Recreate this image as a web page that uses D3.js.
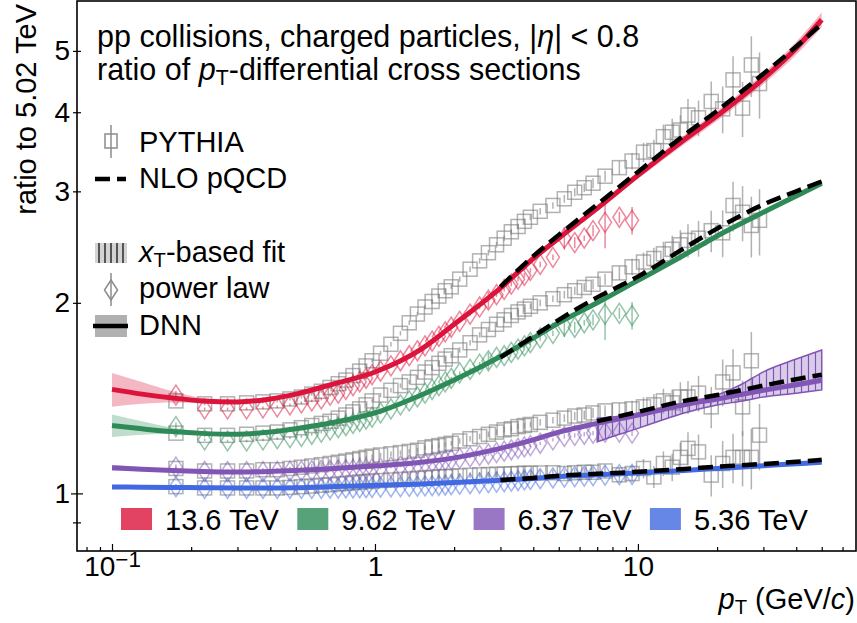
<!DOCTYPE html>
<html>
<head>
<meta charset="utf-8">
<style>
  body { margin: 0; background: #fff; }
  svg text { font-family: "Liberation Sans", Arial, sans-serif; fill: #000; }
</style>
</head>
<body>
<svg id="chart" width="857" height="623"></svg>
<script src="https://cdn.jsdelivr.net/npm/d3@7"></script>
<script>

// ---- data ----
var energies = ["13.6 TeV", "9.62 TeV", "6.37 TeV", "5.36 TeV"];
var colors   = ["#dc143c", "#2e8b57", "#8155b5", "#4169e1"];

// PYTHIA (gray squares)
var ptPy = [0.175, 0.225, 0.275, 0.325, 0.375, 0.425, 0.475, 0.525, 0.575, 0.625, 0.675, 0.725, 0.775, 0.825, 0.875, 0.925, 0.975,
            1.05, 1.15, 1.25, 1.35, 1.45, 1.55, 1.65, 1.75, 1.85, 1.95,
            2.1, 2.3, 2.5, 2.7, 2.9, 3.1, 3.3, 3.5, 3.7, 3.9,
            4.25, 4.75, 5.25, 5.75, 6.25, 6.75, 7.5, 8.5, 9.5,
            10.5, 11.5, 12.5, 13.5, 14.5, 15.5, 17, 19, 21, 23, 25, 27, 29];
var py136 = [1.40, 1.385, 1.385, 1.39, 1.395, 1.40, 1.41, 1.42, 1.435, 1.45, 1.47, 1.49, 1.51, 1.535, 1.56, 1.59, 1.62,
             1.665, 1.72, 1.79, 1.86, 1.92, 1.97, 2.01, 2.05, 2.09, 2.12,
             2.18, 2.26, 2.33, 2.40, 2.47, 2.53, 2.59, 2.64, 2.69, 2.73,
             2.79, 2.85, 2.92, 2.99, 3.04, 3.09, 3.17, 3.27, 3.35,
             3.46, 3.48, 3.66, 3.72, 3.75, 3.96, 3.92, 4.16, 4.05, 4.50, 4.06, 4.75, 4.44];
var py962 = [1.245, 1.235, 1.235, 1.24, 1.245, 1.25, 1.26, 1.27, 1.28, 1.29, 1.30, 1.315, 1.33, 1.345, 1.36, 1.38, 1.40,
             1.43, 1.455, 1.48, 1.50, 1.525, 1.555, 1.58, 1.605, 1.63, 1.65,
             1.685, 1.73, 1.78, 1.815, 1.85, 1.88, 1.91, 1.935, 1.955, 1.975,
             2.00, 2.03, 2.06, 2.09, 2.115, 2.14, 2.18, 2.23, 2.28,
             2.32, 2.35, 2.39, 2.43, 2.47, 2.51, 2.53, 2.60, 2.58, 2.85, 2.78, 2.65, 2.70];
var py637 = [1.095, 1.085, 1.085, 1.085, 1.09, 1.09, 1.095, 1.10, 1.105, 1.11, 1.115, 1.12, 1.125, 1.13, 1.135, 1.14, 1.145,
             1.15, 1.155, 1.16, 1.165, 1.17, 1.18, 1.185, 1.19, 1.195, 1.20,
             1.21, 1.22, 1.23, 1.24, 1.25, 1.26, 1.265, 1.275, 1.28, 1.285,
             1.295, 1.305, 1.315, 1.325, 1.33, 1.34, 1.35, 1.355, 1.36,
             1.37, 1.38, 1.40, 1.39, 1.42, 1.42, 1.44, 1.37, 1.50, 1.55, 1.37, 1.62, null];
var py536 = [1.025, 1.02, 1.02, 1.02, 1.02, 1.02, 1.022, 1.025, 1.027, 1.03, 1.032, 1.035, 1.037, 1.04, 1.042, 1.044, 1.046,
             1.048, 1.05, 1.052, 1.054, 1.056, 1.058, 1.06, 1.062, 1.063, 1.064,
             1.066, 1.068, 1.07, 1.071, 1.072, 1.073, 1.074, 1.075, 1.076, 1.076,
             1.077, 1.078, 1.075, 1.078, 1.08, 1.08, 1.085, 1.07, 1.075,
             1.095, 1.062, 1.115, 1.10, 1.14, 1.178, 1.163, 1.069, 1.115, 1.14, 1.14, 1.14, 1.236];
var pyErr = [0.006, 0.006, 0.006, 0.006, 0.006, 0.006, 0.006, 0.006, 0.006, 0.006, 0.006, 0.006, 0.006, 0.006, 0.006, 0.006, 0.006,
             0.008, 0.008, 0.008, 0.008, 0.008, 0.008, 0.008, 0.008, 0.008, 0.008,
             0.01, 0.01, 0.01, 0.01, 0.01, 0.01, 0.01, 0.01, 0.01, 0.01,
             0.012, 0.012, 0.014, 0.015, 0.016, 0.018, 0.02, 0.025, 0.03,
             0.035, 0.04, 0.045, 0.05, 0.055, 0.06, 0.065, 0.075, 0.085, 0.09, 0.10, 0.11, 0.12];

// power law (coloured diamonds)
var ptPow = [0.175, 0.225, 0.275, 0.325, 0.375, 0.425, 0.475, 0.525, 0.575, 0.625, 0.675, 0.725, 0.775, 0.825, 0.875, 0.925, 0.975,
             1.05, 1.15, 1.25, 1.35, 1.45, 1.55, 1.65, 1.75, 1.85, 1.95,
             2.1, 2.3, 2.5, 2.7, 2.9, 3.1, 3.3, 3.5, 3.7, 3.9,
             4.25, 4.75, 5.25, 5.75, 6.25, 6.75, 7.5, 8.5, 9.5];
var pow136 = [1.43, 1.36, 1.36, 1.36, 1.365, 1.37, 1.38, 1.39, 1.40, 1.41, 1.43, 1.44, 1.46, 1.48, 1.50, 1.52, 1.54,
              1.56, 1.59, 1.62, 1.65, 1.68, 1.71, 1.74, 1.77, 1.80, 1.83,
              1.87, 1.92, 1.97, 2.02, 2.06, 2.10, 2.14, 2.18, 2.21, 2.25,
              2.30, 2.36, 2.53, 2.49, 2.53, 2.60, 2.68, 2.73, 2.70];
var pow962 = [1.275, 1.215, 1.21, 1.21, 1.215, 1.22, 1.225, 1.23, 1.24, 1.25, 1.26, 1.27, 1.28, 1.29, 1.30, 1.31, 1.32,
              1.34, 1.36, 1.38, 1.40, 1.42, 1.44, 1.46, 1.48, 1.50, 1.52,
              1.55, 1.57, 1.60, 1.62, 1.64, 1.65, 1.67, 1.69, 1.71, 1.73,
              1.76, 1.79, 1.84, 1.83, 1.86, 1.88, 1.92, 1.925, 1.91];
var pow637 = [1.10, 1.083, 1.082, 1.082, 1.082, 1.083, 1.084, 1.085, 1.086, 1.087, 1.088, 1.089, 1.09, 1.091, 1.092, 1.093, 1.094,
              1.096, 1.10, 1.104, 1.108, 1.112, 1.116, 1.12, 1.124, 1.128, 1.131,
              1.136, 1.142, 1.148, 1.154, 1.16, 1.166, 1.172, 1.178, 1.184, 1.19,
              1.20, 1.215, 1.23, 1.235, 1.24, 1.245, 1.25, 1.25, 1.245];
var pow536 = [1.025, 1.018, 1.018, 1.018, 1.018, 1.018, 1.018, 1.018, 1.018, 1.018, 1.019, 1.019, 1.02, 1.02, 1.021, 1.021, 1.022,
              1.023, 1.024, 1.025, 1.026, 1.027, 1.028, 1.029, 1.03, 1.031, 1.032,
              1.034, 1.036, 1.038, 1.04, 1.042, 1.044, 1.046, 1.048, 1.05, 1.052,
              1.055, 1.058, 1.061, 1.063, 1.065, 1.067, 1.069, 1.071, 1.072];
// relative errors: larger for 13.6 / 9.62 TeV, small for 6.37 / 5.36 TeV
var powErrA = [0.015, 0.005, 0.005, 0.005, 0.005, 0.005, 0.005, 0.005, 0.005, 0.005, 0.005, 0.005, 0.005, 0.005, 0.005, 0.005, 0.005,
               0.005, 0.005, 0.005, 0.005, 0.005, 0.005, 0.005, 0.005, 0.005, 0.005,
               0.006, 0.006, 0.008, 0.03, 0.008, 0.008, 0.008, 0.008, 0.008, 0.008,
               0.01, 0.01, 0.04, 0.02, 0.01, 0.02, 0.09, 0.02, 0.05];
var powErrB = [0.01, 0.004, 0.004, 0.004, 0.004, 0.004, 0.004, 0.004, 0.004, 0.004, 0.004, 0.004, 0.004, 0.004, 0.004, 0.004, 0.004,
               0.004, 0.004, 0.004, 0.004, 0.004, 0.004, 0.004, 0.004, 0.004, 0.004,
               0.005, 0.005, 0.005, 0.006, 0.005, 0.005, 0.005, 0.005, 0.005, 0.005,
               0.006, 0.006, 0.008, 0.008, 0.008, 0.008, 0.01, 0.01, 0.01];

// DNN curves with uncertainty band
var ptDnn  = [0.1, 0.13, 0.17, 0.22, 0.3, 0.4, 0.5, 0.7, 1, 1.5, 2, 3, 4, 5, 7, 10, 15, 20, 30, 40, 50];
var dnn136 = [1.46, 1.435, 1.415, 1.40, 1.395, 1.41, 1.435, 1.49, 1.555, 1.69, 1.85, 2.11, 2.35, 2.53, 2.82, 3.18, 3.62, 3.95, 4.52, 5.05, 5.6];
var lo136  = [1.37, 1.385, 1.392, 1.39, 1.388, 1.403, 1.428, 1.483, 1.547, 1.68, 1.84, 2.095, 2.33, 2.505, 2.79, 3.14, 3.56, 3.88, 4.43, 4.93, 5.45];
var hi136  = [1.55, 1.50, 1.45, 1.415, 1.402, 1.417, 1.442, 1.497, 1.563, 1.70, 1.86, 2.125, 2.37, 2.555, 2.85, 3.22, 3.68, 4.02, 4.61, 5.17, 5.75];
var dnn962 = [1.28, 1.265, 1.252, 1.244, 1.24, 1.25, 1.265, 1.295, 1.34, 1.43, 1.51, 1.645, 1.76, 1.86, 2.0, 2.17, 2.38, 2.55, 2.78, 2.95, 3.09];
var lo962  = [1.228, 1.238, 1.242, 1.238, 1.235, 1.245, 1.26, 1.29, 1.335, 1.424, 1.504, 1.638, 1.752, 1.851, 1.99, 2.158, 2.365, 2.53, 2.755, 2.92, 3.055];
var hi962  = [1.333, 1.30, 1.27, 1.252, 1.245, 1.255, 1.27, 1.30, 1.345, 1.436, 1.516, 1.652, 1.768, 1.869, 2.01, 2.182, 2.395, 2.57, 2.805, 2.98, 3.125];
var dnn637 = [1.098, 1.092, 1.087, 1.083, 1.081, 1.083, 1.087, 1.095, 1.105, 1.12, 1.138, 1.178, 1.215, 1.25, 1.29, 1.33, 1.38, 1.41, 1.455, 1.485, 1.51];
var lo637  = [1.086, 1.084, 1.082, 1.079, 1.078, 1.080, 1.084, 1.092, 1.102, 1.117, 1.135, 1.175, 1.211, 1.246, 1.285, 1.324, 1.372, 1.40, 1.443, 1.47, 1.493];
var hi637  = [1.11, 1.10, 1.092, 1.087, 1.084, 1.086, 1.09, 1.098, 1.108, 1.123, 1.141, 1.181, 1.219, 1.254, 1.295, 1.336, 1.388, 1.42, 1.467, 1.50, 1.527];
var dnn536 = [1.024, 1.023, 1.022, 1.021, 1.02, 1.02, 1.021, 1.025, 1.03, 1.035, 1.04, 1.049, 1.056, 1.063, 1.07, 1.077, 1.087, 1.095, 1.106, 1.114, 1.12];
var lo536  = [1.019, 1.019, 1.019, 1.018, 1.017, 1.017, 1.018, 1.022, 1.027, 1.032, 1.037, 1.046, 1.053, 1.06, 1.067, 1.074, 1.083, 1.091, 1.101, 1.108, 1.113];
var hi536  = [1.029, 1.027, 1.025, 1.024, 1.023, 1.023, 1.024, 1.028, 1.033, 1.038, 1.043, 1.052, 1.059, 1.066, 1.073, 1.08, 1.091, 1.099, 1.111, 1.12, 1.127];

// NLO pQCD (black dashed)
var ptNlo  = [3, 4, 5, 7, 10, 15, 20, 30, 40, 50];
var nlo136 = [2.12, 2.37, 2.56, 2.86, 3.22, 3.68, 4.02, 4.60, 5.08, 5.52];
var nlo962 = [1.64, 1.77, 1.88, 2.04, 2.20, 2.44, 2.62, 2.86, 3.00, 3.11];
var nlo536 = [1.05, 1.058, 1.066, 1.074, 1.082, 1.093, 1.102, 1.113, 1.122, 1.13];
var ptNloP = [7, 10, 15, 20, 30, 40, 50];
var nlo637 = [1.30, 1.345, 1.40, 1.43, 1.48, 1.515, 1.54];

// xT-based fit band (6.37 TeV)
var ptXt = [7, 8, 10, 12, 15, 20, 25, 30, 40, 50];
var xtLo = [1.206, 1.23, 1.267, 1.30, 1.34, 1.379, 1.40, 1.42, 1.44, 1.457];
var xtHi = [1.314, 1.32, 1.338, 1.36, 1.39, 1.43, 1.49, 1.556, 1.63, 1.685];

var xMajor = [0.1, 1, 10];
var xMinor = [0.08, 0.09, 0.2, 0.3, 0.4, 0.5, 0.6, 0.7, 0.8, 0.9, 2, 3, 4, 5, 6, 7, 8, 9, 20, 30, 40, 50, 60];
var yMajor = [1];
var yMinor = [0.9, 2, 3, 4, 5];

// ---- layout ----
var margin = {top: 1, right: 1, bottom: 72, left: 77},
    width  = 857 - margin.left - margin.right,
    height = 623 - margin.top - margin.bottom;

var x = d3.scaleLog().domain([0.0736, 67.5]).range([0, width]);
var y = d3.scaleLog().domain([0.811, 5.995]).range([height, 0]);

var svg = d3.select("#chart");
var defs = svg.append("defs");
defs.append("clipPath").attr("id", "clip")
  .append("rect").attr("width", width).attr("height", height);
var hatch = defs.append("pattern").attr("id", "hatch")
  .attr("patternUnits", "userSpaceOnUse").attr("width", 7).attr("height", 10);
hatch.append("line").attr("x1", 3.5).attr("x2", 3.5).attr("y1", 0).attr("y2", 10)
  .attr("stroke", colors[2]).attr("stroke-width", 1.2);
var hatchK = defs.append("pattern").attr("id", "hatchK")
  .attr("patternUnits", "userSpaceOnUse").attr("width", 6).attr("height", 10);
hatchK.append("line").attr("x1", 3).attr("x2", 3).attr("y1", 0).attr("y2", 10)
  .attr("stroke", "#000").attr("stroke-width", 1.2);

var g = svg.append("g").attr("transform", `translate(${margin.left},${margin.top})`);
var plot = g.append("g").attr("clip-path", "url(#clip)");

var line = d3.line().x(d => x(d[0])).y(d => y(d[1])).curve(d3.curveMonotoneX);
var area = d3.area().x(d => x(d[0])).y0(d => y(d[1])).y1(d => y(d[2])).curve(d3.curveMonotoneX);

var dnn = [dnn136, dnn962, dnn637, dnn536];
var lo  = [lo136, lo962, lo637, lo536];
var hi  = [hi136, hi962, hi637, hi536];
var py  = [py136, py962, py637, py536];
var pw  = [pow136, pow962, pow637, pow536];
var pwE = [powErrA, powErrA, powErrB, powErrB];

// DNN bands
dnn.forEach(function(vals, k) {
  plot.append("path")
    .datum(ptDnn.map((p, i) => [p, lo[k][i], hi[k][i]]))
    .attr("d", area)
    .attr("fill", colors[k]).attr("fill-opacity", 0.3);
});

// PYTHIA squares
py.forEach(function(vals, k) {
  var pts = ptPy.map((p, i) => ({p: p, v: vals[i], e: pyErr[i]})).filter(d => d.v != null);
  var gg = plot.append("g").attr("stroke", "#7f7f7f").attr("stroke-opacity", 0.6)
    .attr("stroke-width", 1.5).attr("fill", "none");
  gg.selectAll("line").data(pts).join("line")
    .attr("x1", d => x(d.p)).attr("x2", d => x(d.p))
    .attr("y1", d => y(d.v * (1 - d.e))).attr("y2", d => y(d.v * (1 + d.e)));
  gg.selectAll("rect").data(pts).join("rect")
    .attr("x", d => x(d.p) - 7).attr("y", d => y(d.v) - 7)
    .attr("width", 14).attr("height", 14);
});

// power law diamonds
var diamond = "M0,-10L6.5,0L0,10L-6.5,0Z";
pw.forEach(function(vals, k) {
  var pts = ptPow.map((p, i) => ({p: p, v: vals[i], e: pwE[k][i]}));
  var gg = plot.append("g").attr("stroke", colors[k]).attr("stroke-opacity", 0.5)
    .attr("stroke-width", 1.5).attr("fill", "none");
  gg.selectAll("line").data(pts).join("line")
    .attr("x1", d => x(d.p)).attr("x2", d => x(d.p))
    .attr("y1", d => y(d.v * (1 - d.e))).attr("y2", d => y(d.v * (1 + d.e)));
  gg.selectAll("path").data(pts).join("path")
    .attr("d", diamond)
    .attr("transform", d => `translate(${x(d.p)},${y(d.v)})`);
});

// DNN lines
dnn.forEach(function(vals, k) {
  plot.append("path")
    .datum(ptDnn.map((p, i) => [p, vals[i]]))
    .attr("d", line)
    .attr("fill", "none").attr("stroke", colors[k]).attr("stroke-width", 5);
});

// xT-based fit band
var xtData = ptXt.map((p, i) => [p, xtLo[i], xtHi[i]]);
plot.append("path").datum(xtData).attr("d", area)
  .attr("fill", colors[2]).attr("fill-opacity", 0.3);
plot.append("path").datum(xtData).attr("d", area)
  .attr("fill", "url(#hatch)").attr("stroke", colors[2]).attr("stroke-width", 1.5);

// NLO pQCD
[[ptNlo, nlo136], [ptNlo, nlo962], [ptNloP, nlo637], [ptNlo, nlo536]].forEach(function(s) {
  plot.append("path")
    .datum(s[0].map((p, i) => [p, s[1][i]]))
    .attr("d", line)
    .attr("fill", "none").attr("stroke", "#000").attr("stroke-width", 4.5)
    .attr("stroke-dasharray", "15,7");
});

// ---- axes ----
var xAxis = g.append("g").attr("transform", `translate(0,${height})`)
  .call(d3.axisBottom(x).tickValues(xMajor).tickSize(-7).tickPadding(5)
    .tickFormat(d => d === 0.1 ? "10" : d3.format("d")(d)));
g.append("g").attr("transform", `translate(0,${height})`)
  .call(d3.axisBottom(x).tickValues(xMinor).tickSize(-4).tickFormat(""));
xAxis.selectAll("text").filter(d => d === 0.1)
  .append("tspan").attr("dy", "-0.4em").attr("font-size", "0.8em").text("\u22121");

var yAxis = g.append("g")
  .call(d3.axisLeft(y).tickValues(yMajor.concat(yMinor)).tickSize(4).tickPadding(3)
    .tickFormat(d => d === 0.9 ? "" : d3.format("d")(d)));
yAxis.selectAll(".tick line").attr("x2", d => d === 1 ? -6 : -4);
g.append("g")
  .call(d3.axisLeft(y).tickValues(yMajor.concat(yMinor)).tickSize(-4).tickFormat(""))
  .selectAll(".tick line").attr("x2", d => d === 1 ? 6 : 4);

g.selectAll(".domain").remove();
g.selectAll(".tick line").attr("stroke", "#000").attr("stroke-width", 1.2);
g.selectAll(".tick text").attr("font-size", 28).attr("font-family", "Liberation Sans, Arial, sans-serif").attr("fill", "#000");

g.append("rect").attr("width", width).attr("height", height)
  .attr("fill", "none").attr("stroke", "#000").attr("stroke-width", 1.6);

// axis labels
svg.append("text").attr("font-size", 29)
  .attr("transform", "translate(36,4) rotate(-90)").attr("text-anchor", "end")
  .text("ratio to 5.02 TeV");
var xlab = svg.append("text").attr("font-size", 29)
  .attr("x", 855).attr("y", 609).attr("text-anchor", "end");
xlab.append("tspan").attr("font-style", "italic").text("p");
xlab.append("tspan").attr("font-size", "0.7em").attr("dy", "0.25em").text("T");
xlab.append("tspan").attr("dy", "-0.18em").text(" (GeV/");
xlab.append("tspan").attr("font-style", "italic").text("c");
xlab.append("tspan").text(")");

// header text
var t1 = svg.append("text").attr("font-size", 30.5).attr("x", 97).attr("y", 47);
t1.append("tspan").text("pp collisions, charged particles, |");
t1.append("tspan").attr("font-style", "italic").text("\u03b7");
t1.append("tspan").text("| < 0.8");
var t2 = svg.append("text").attr("font-size", 30.5).attr("x", 97).attr("y", 80);
t2.append("tspan").text("ratio of ");
t2.append("tspan").attr("font-style", "italic").text("p");
t2.append("tspan").attr("font-size", "0.7em").attr("dy", "0.25em").text("T");
t2.append("tspan").attr("dy", "-0.18em").text("-differential cross sections");

// ---- legend (method) ----
var lg = svg.append("g");
var hx = 111;
// PYTHIA
lg.append("line").attr("x1", hx).attr("x2", hx).attr("y1", 125).attr("y2", 158)
  .attr("stroke", "#8c8c8c").attr("stroke-width", 1.5);
lg.append("rect").attr("x", hx - 6).attr("y", 134).attr("width", 12).attr("height", 14)
  .attr("fill", "none").attr("stroke", "#8c8c8c").attr("stroke-width", 1.5);
lg.append("text").attr("x", 139).attr("y", 152).attr("font-size", 29).text("PYTHIA");
// NLO
lg.append("line").attr("x1", 95).attr("x2", 126).attr("y1", 179).attr("y2", 179)
  .attr("stroke", "#000").attr("stroke-width", 4.5).attr("stroke-dasharray", "15,7");
lg.append("text").attr("x", 139).attr("y", 188).attr("font-size", 29).text("NLO pQCD");
// xT fit
lg.append("rect").attr("x", 95).attr("y", 243).attr("width", 32).attr("height", 20)
  .attr("fill", "#d3d3d3");
lg.append("rect").attr("x", 95).attr("y", 243).attr("width", 32).attr("height", 20)
  .attr("fill", "url(#hatchK)");
var tx = lg.append("text").attr("x", 139).attr("y", 262).attr("font-size", 29);
tx.append("tspan").attr("font-style", "italic").text("x");
tx.append("tspan").attr("font-size", "0.7em").attr("dy", "0.25em").text("T");
tx.append("tspan").attr("dy", "-0.18em").text("-based fit");
// power law
lg.append("line").attr("x1", hx).attr("x2", hx).attr("y1", 273).attr("y2", 306)
  .attr("stroke", "#8c8c8c").attr("stroke-width", 1.5);
lg.append("path").attr("d", diamond).attr("transform", `translate(${hx},290)`)
  .attr("fill", "none").attr("stroke", "#8c8c8c").attr("stroke-width", 1.5);
lg.append("text").attr("x", 139).attr("y", 298).attr("font-size", 29).text("power law");
// DNN
lg.append("rect").attr("x", 95).attr("y", 315).attr("width", 32).attr("height", 22)
  .attr("fill", "#b0b0b0");
lg.append("line").attr("x1", 93).attr("x2", 128).attr("y1", 326).attr("y2", 326)
  .attr("stroke", "#000").attr("stroke-width", 4.5);
lg.append("text").attr("x", 139).attr("y", 335).attr("font-size", 29).text("DNN");

// ---- legend (energies) ----
var eg = svg.append("g");
energies.forEach(function(name, k) {
  var x0 = 121 + k * 176.3;
  eg.append("rect").attr("x", x0).attr("y", 508).attr("width", 31).attr("height", 22)
    .attr("fill", colors[k]).attr("fill-opacity", 0.8);
  eg.append("text").attr("x", x0 + 44).attr("y", 530).attr("font-size", 29).text(name);
});

</script>
</body>
</html>
